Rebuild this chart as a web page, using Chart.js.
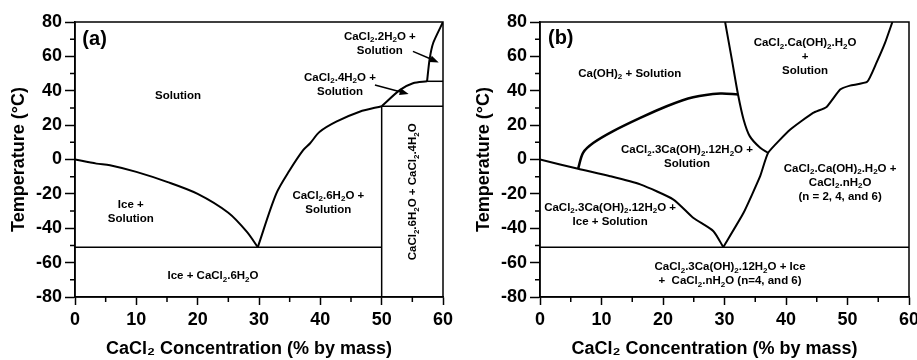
<!DOCTYPE html>
<html lang="en">
<head>
  <meta charset="UTF-8">
  <title>CaCl2 phase diagrams</title>
  <script src="https://cdn.jsdelivr.net/npm/chart.js"></script>
  <style>
    body { margin: 0; width: 917px; height: 360px; overflow: hidden; background: #fff; position: relative; }
    canvas { position: absolute; top: 0; }
    #chartA { left: 0; }
    #chartB { left: 458px; }
  </style>
</head>
<body>
  <canvas id="chartA" width="458" height="360"></canvas>
  <canvas id="chartB" width="475" height="360"></canvas>

  <script>
    // ---- panel (a): CaCl2 - H2O ----
    const iceLineA   = [[0,0],[3.5,-2.4],[5.7,-3.3],[10,-7.2],[15,-13],[20,-20],[25,-31],[28,-42],[29.8,-51]];
    const hexaLineA  = [[29.8,-51],[32.8,-20],[35,-6.3],[37.2,5.4],[38.3,9.3],[39.9,16.1],[42.6,22],[46.4,27.8],[50,31]];
    const tetraLineA = [[50,31],[53,40.5],[55.1,44.4],[57.4,45.5]];
    const diLineA    = [[57.4,45.5],[57.8,58],[58.4,67.8],[60,80]];
    const eutecticA  = [[0,-51],[50,-51]];
    const hexaMeltA  = [[50,-80],[50,31]];
    const tetraTieA  = [[50,31],[60,31]];
    const diTieA     = [[57.4,45.5],[60,45.5]];

    // ---- panel (b): CaCl2 - Ca(OH)2 - H2O ----
    const iceLineB   = [[0,0],[6.2,-5.4],[11.4,-9.7],[16.3,-14.5],[21.7,-23.3],[24.9,-33.9],[28.2,-41.7],[29.8,-51]];
    const saltLineB  = [[29.8,-51],[33.1,-31],[35.8,-9.7],[37.1,3.9],[40.7,17.4],[44.4,27.1],[46.6,30.6],[48.8,40.7],[50.4,43],[53.2,45.2],[54.7,56.2],[56.1,67.8],[57.3,80]];
    const oxyLineB   = [[6.2,-5.4],[7,3.9],[8.7,9.7],[11.9,16.5],[16.3,24.2],[20.6,31],[24.9,36.2],[29.3,38.4],[32.2,37.8]];
    const upperLineB = [[30.1,80],[31.2,58.1],[32.2,37.8],[33.1,23.3],[34.1,13.6],[35.8,6.8],[37.1,3.9]];
    const eutecticB  = [[0,-51],[60,-51]];

    // region names ("_2" = subscript 2), placed at [concentration, temperature]
    const notesA = [
      { at: [1.2, 70], text: ['(a)'], big: true },
      { at: [16.8, 37.2], text: ['Solution'] },
      { at: [49.7, 67.3], text: ['CaCl_2.2H_2O +', 'Solution'] },
      { at: [43.2, 43.7], text: ['CaCl_2.4H_2O +', 'Solution'] },
      { at: [55.1, -18.8], text: ['CaCl_2.6H_2O + CaCl_2.4H_2O'], vertical: true },
      { at: [9.1, -30.6], text: ['Ice +', 'Solution'] },
      { at: [41.3, -25.2], text: ['CaCl_2.6H_2O +', 'Solution'] },
      { at: [22.5, -67.7], text: ['Ice + CaCl_2.6H_2O'] }
    ];
    const arrowsA = [
      [[55.1, 62.9], [59.3, 56.5]],
      [[48.9, 43.4], [54.4, 38.1]]
    ];
    const notesB = [
      { at: [1.3, 70.5], text: ['(b)'], big: true },
      { at: [14.6, 50], text: ['Ca(OH)_2 + Solution'] },
      { at: [43.1, 59.5], text: ['CaCl_2.Ca(OH)_2.H_2O', '+', 'Solution'] },
      { at: [23.9, 1.5], text: ['CaCl_2.3Ca(OH)_2.12H_2O +', 'Solution'] },
      { at: [48.8, -13.5], text: ['CaCl_2.Ca(OH)_2.H_2O +', 'CaCl_2.nH_2O', '(n = 2, 4, and 6)'] },
      { at: [11.4, -32], text: ['CaCl_2.3Ca(OH)_2.12H_2O +', 'Ice + Solution'] },
      { at: [30.9, -66.6], text: ['CaCl_2.3Ca(OH)_2.12H_2O + Ice', '+  CaCl_2.nH_2O (n=4, and 6)'] }
    ];

    const xTicks = { min: 0, max: 60, step: 10 };
    const yTicks = { min: -80, max: 80, step: 20 };

    const FONT = '"Liberation Sans", Arial, Helvetica, sans-serif';
    Chart.defaults.color = '#000';
    Chart.defaults.font.family = FONT;

    const pts = arr => arr.map(([x, y]) => ({ x, y }));

    // draw one line of text with "_2" style subscripts
    function drawRich(ctx, str, x, y, size, align) {
      const parts = str.split(/(_\d)/).filter(s => s).map(s =>
        s[0] === '_' ? { t: s.slice(1), sub: true } : { t: s, sub: false });
      const big = 'bold ' + size + 'px ' + FONT;
      const small = 'bold ' + Math.round(size * 0.7) + 'px ' + FONT;
      let w = 0;
      parts.forEach(p => { ctx.font = p.sub ? small : big; p.w = ctx.measureText(p.t).width; w += p.w; });
      let cx = align === 'left' ? x : x - w / 2;
      parts.forEach(p => {
        ctx.font = p.sub ? small : big;
        ctx.fillText(p.t, cx, p.sub ? y + size * 0.3 : y);
        cx += p.w;
      });
    }

    function notesPlugin(notes, arrows) {
      return {
        id: 'phaseNotes',
        afterDatasetsDraw(chart) {
          const { ctx, chartArea: a, scales: { x, y } } = chart;
          ctx.save();
          ctx.strokeStyle = '#000';
          ctx.fillStyle = '#000';

          // frame
          ctx.lineWidth = 1.5;
          ctx.strokeRect(a.left, a.top, a.right - a.left, a.bottom - a.top);

          // minor ticks
          ctx.beginPath();
          for (let v = xTicks.min + xTicks.step / 2; v < xTicks.max; v += xTicks.step) {
            const px = x.getPixelForValue(v);
            ctx.moveTo(px, a.bottom); ctx.lineTo(px, a.bottom + 5);
          }
          for (let v = yTicks.min + yTicks.step / 2; v < yTicks.max; v += yTicks.step) {
            const py = y.getPixelForValue(v);
            ctx.moveTo(a.left, py); ctx.lineTo(a.left - 5, py);
          }
          ctx.stroke();

          // arrows
          arrows.forEach(([from, to]) => {
            const x1 = x.getPixelForValue(from[0]), y1 = y.getPixelForValue(from[1]);
            const x2 = x.getPixelForValue(to[0]), y2 = y.getPixelForValue(to[1]);
            const ang = Math.atan2(y2 - y1, x2 - x1);
            ctx.lineWidth = 1.5;
            ctx.beginPath();
            ctx.moveTo(x1, y1);
            ctx.lineTo(x2 - 6 * Math.cos(ang), y2 - 6 * Math.sin(ang));
            ctx.stroke();
            ctx.beginPath();
            ctx.moveTo(x2, y2);
            ctx.lineTo(x2 - 9 * Math.cos(ang) + 3.5 * Math.sin(ang), y2 - 9 * Math.sin(ang) - 3.5 * Math.cos(ang));
            ctx.lineTo(x2 - 9 * Math.cos(ang) - 3.5 * Math.sin(ang), y2 - 9 * Math.sin(ang) + 3.5 * Math.cos(ang));
            ctx.closePath();
            ctx.fill();
          });

          // region labels
          ctx.textBaseline = 'middle';
          ctx.textAlign = 'left';
          notes.forEach(n => {
            const px = x.getPixelForValue(n.at[0]), py = y.getPixelForValue(n.at[1]);
            const size = n.big ? 20 : 11.5;
            const lh = 14;
            ctx.save();
            ctx.translate(px, py);
            if (n.vertical) ctx.rotate(-Math.PI / 2);
            n.text.forEach((line, i) => {
              const dy = (i - (n.text.length - 1) / 2) * lh;
              drawRich(ctx, line, 0, dy, size, n.big ? 'left' : 'center');
            });
            ctx.restore();
          });
          ctx.restore();
        }
      };
    }

    function makeChart(id, lines, notes, arrows, padLeft, padRight) {
      new Chart(document.getElementById(id), {
        type: 'scatter',
        data: {
          datasets: lines.map(l => ({
            data: pts(l.data),
            showLine: true,
            borderColor: '#000',
            borderWidth: l.w,
            pointRadius: 0,
            tension: l.smooth || 0
          }))
        },
        options: {
          responsive: false,
          animation: false,
          layout: { padding: { top: 22, left: padLeft, right: padRight, bottom: 0 } },
          plugins: { legend: { display: false }, tooltip: { enabled: false } },
          scales: {
            x: {
              type: 'linear',
              min: xTicks.min, max: xTicks.max,
              afterFit: s => { s.height = 63; },
              ticks: { stepSize: xTicks.step, padding: 4, font: { size: 18, weight: 'bold' } },
              grid: { drawOnChartArea: false, tickLength: 8, tickColor: '#000', tickWidth: 1.5 },
              border: { color: '#000', width: 1.5 },
              // trailing spaces nudge the centred title a little left, as in the original
              title: { display: true, text: 'CaCl\u2082 Concentration (% by mass)    ', padding: 0,
                       font: { size: 18, weight: 'bold' } }
            },
            y: {
              min: yTicks.min, max: yTicks.max,
              afterFit: s => { s.width = 75; },
              ticks: { stepSize: yTicks.step, padding: 3, font: { size: 18, weight: 'bold' } },
              grid: { drawOnChartArea: false, tickLength: 10, tickColor: '#000', tickWidth: 1.5 },
              border: { color: '#000', width: 1.5 },
              title: { display: true, text: 'Temperature (\u00B0C)', padding: { top: 8 },
                       font: { size: 18, weight: 'bold' } }
            }
          }
        },
        plugins: [notesPlugin(notes, arrows)]
      });
    }

    makeChart('chartA', [
      { data: iceLineA, w: 2, smooth: 0.3 }, { data: hexaLineA, w: 2, smooth: 0.3 },
      { data: tetraLineA, w: 2, smooth: 0.3 }, { data: diLineA, w: 2, smooth: 0.2 },
      { data: eutecticA, w: 1.5 }, { data: hexaMeltA, w: 1.5 }, { data: tetraTieA, w: 1.5 }, { data: diTieA, w: 1.5 }
    ], notesA, arrowsA, 0, 15);

    makeChart('chartB', [
      { data: iceLineB, w: 2, smooth: 0.2 }, { data: saltLineB, w: 2, smooth: 0.15 },
      { data: oxyLineB, w: 2.5, smooth: 0.3 }, { data: upperLineB, w: 2, smooth: 0.3 },
      { data: eutecticB, w: 1.5 }
    ], notesB, [], 7, 24);
  </script>
</body>
</html>
